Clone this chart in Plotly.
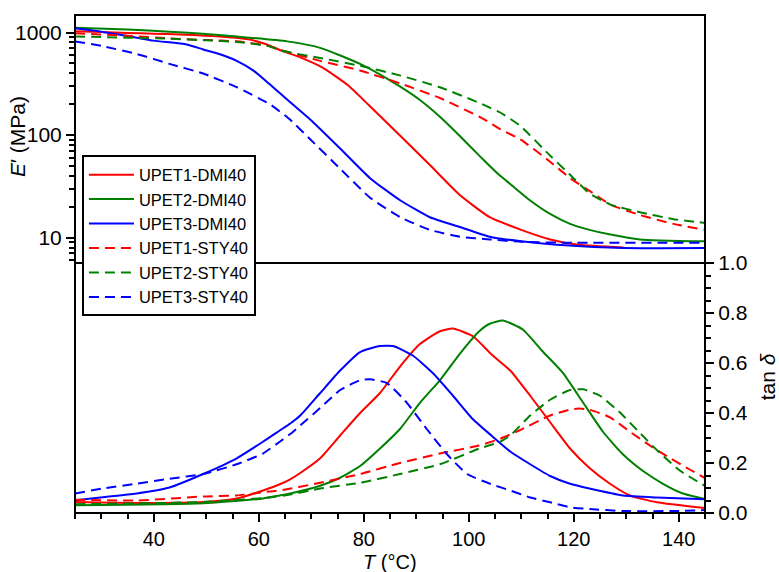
import plotly.graph_objects as go

# ---------------- data: storage modulus E' (MPa) ----------------
T_e_d1 = [25, 30, 35, 40, 45, 50, 55, 58, 62, 64, 68, 72, 77, 81, 87, 92.6, 98.3, 104, 110, 115.5, 121, 129.5]
E_d1 = [1030, 1010, 990, 975, 957, 930, 895, 858, 750, 675, 570, 460, 306, 195, 98, 51, 26, 15.8, 11.9, 9.6, 8.5, 8.0]

T_e_d2 = [25, 35, 43, 50, 55.8, 65.4, 71.7, 79.3, 85, 90.7, 94.5, 98.3, 102, 104, 106, 108, 111.7, 115.5, 119.3, 123, 127, 132.6, 145]
E_d2 = [1116, 1070, 1020, 970, 915, 820, 709, 494, 341, 220, 151, 98, 63, 50, 40, 33, 23, 17, 13.6, 11.9, 10.7, 9.6, 9.2]

T_e_d3 = [25, 30, 33.6, 39.9, 46.3, 49.4, 52.6, 55.8, 59, 62, 64, 66, 69.8, 75.5, 81.2, 87, 92.6, 98.3, 104, 110, 116.8, 129.4, 145]
E_d3 = [1099, 1020, 950, 834, 764, 684, 613, 529, 425, 316, 257, 209, 142, 74, 38, 23, 15.8, 12.7, 10.2, 9.2, 8.5, 7.9, 7.9]

T_e_s1 = [25, 35, 43, 50, 55.8, 62, 64, 71.7, 79.3, 87, 94.5, 102, 104, 106, 109.8, 115.5, 119.3, 123, 127, 132.6, 139, 145]
E_s1 = [985, 930, 877, 845, 820, 740, 680, 529, 426, 318, 230, 151, 132, 114, 91, 55, 38, 28.6, 21, 16.6, 13.6, 11.9]

T_e_s2 = [25, 35, 43, 50, 55.8, 62, 64, 71.7, 79.3, 87, 94.5, 102, 104, 106, 109.8, 115.5, 119.3, 123, 127, 132.6, 139, 145]
E_s2 = [915, 890, 870, 840, 810, 736, 670, 565, 474, 380, 293, 206, 185, 166, 123, 63, 41, 27, 21, 17.7, 15.1, 13.9]

T_e_s3 = [25, 30.3, 36.8, 43, 49.4, 55.8, 62.1, 64, 66, 69.8, 75.5, 81.2, 87, 92.6, 98.3, 104, 110, 120, 145]
E_s3 = [820, 736, 617, 495, 398, 293, 200, 170, 141, 91, 47, 24.5, 15.8, 11.9, 10.2, 9.6, 9.1, 8.9, 8.9]

# ---------------- data: tan delta ----------------
T_t_d1 = [25, 37, 49.4, 55.8, 60.8, 64, 66, 67.9, 71.7, 75.5, 79.3, 83.1, 86.9, 90.7, 94.5, 97, 100.8, 104.3, 107.9, 111.7, 115.5, 119.3, 123, 126.9, 130.7, 135.8, 145]
tan_d1 = [0.044, 0.040, 0.044, 0.058, 0.090, 0.115, 0.135, 0.160, 0.219, 0.310, 0.400, 0.480, 0.586, 0.676, 0.727, 0.738, 0.707, 0.635, 0.570, 0.469, 0.363, 0.258, 0.180, 0.117, 0.070, 0.043, 0.020]

T_t_d2 = [25, 49.4, 60.8, 64, 66, 71.7, 75.5, 79.3, 83.1, 86.9, 90.7, 94.5, 98.3, 102, 104, 106.5, 110.3, 114, 118, 121.8, 125.6, 129.4, 133.2, 137, 140.8, 145]
tan_d2 = [0.031, 0.039, 0.058, 0.070, 0.078, 0.109, 0.141, 0.188, 0.258, 0.336, 0.441, 0.531, 0.637, 0.727, 0.757, 0.770, 0.734, 0.648, 0.559, 0.441, 0.324, 0.234, 0.168, 0.117, 0.078, 0.056]

T_t_d3 = [25, 30.3, 36.7, 43, 49.4, 55.8, 60.8, 64, 66, 67.9, 71.7, 75.5, 79.3, 83.1, 85.6, 89.4, 93.2, 97, 100.8, 104.3, 107.9, 111.7, 115.5, 119.3, 123, 129.4, 135.8, 145]
tan_d3 = [0.051, 0.063, 0.078, 0.102, 0.156, 0.219, 0.285, 0.330, 0.358, 0.390, 0.480, 0.570, 0.644, 0.668, 0.668, 0.629, 0.559, 0.469, 0.375, 0.310, 0.246, 0.195, 0.148, 0.117, 0.098, 0.070, 0.062, 0.055]

T_t_s1 = [25, 37, 49.4, 55.8, 62, 64, 71.7, 79.3, 86.9, 94.5, 102, 106, 109.8, 115.5, 119.3, 121, 123, 126.9, 130.7, 134.5, 138.3, 142, 145]
tan_s1 = [0.053, 0.050, 0.066, 0.070, 0.086, 0.090, 0.121, 0.156, 0.200, 0.238, 0.270, 0.297, 0.332, 0.390, 0.414, 0.418, 0.413, 0.383, 0.325, 0.270, 0.220, 0.175, 0.140]

T_t_s2 = [25, 49.4, 62, 66, 71.7, 79.3, 86.9, 94.5, 102, 106, 107.9, 111.7, 115.5, 119.3, 121.8, 125, 128.8, 132.6, 136.4, 140.2, 145]
tan_s2 = [0.035, 0.044, 0.062, 0.074, 0.098, 0.121, 0.156, 0.195, 0.258, 0.285, 0.310, 0.390, 0.453, 0.492, 0.495, 0.469, 0.402, 0.320, 0.240, 0.170, 0.108]

T_t_s3 = [25, 30.3, 36.7, 43, 49.4, 55.8, 60.8, 64, 66, 67.9, 71.7, 75.5, 79.3, 81.2, 84.4, 88.2, 92, 95.9, 99.7, 104.3, 107.9, 111.7, 115.5, 119.3, 123, 129.4, 140, 145]
tan_s3 = [0.078, 0.098, 0.117, 0.137, 0.156, 0.195, 0.238, 0.285, 0.316, 0.350, 0.420, 0.492, 0.531, 0.535, 0.520, 0.441, 0.336, 0.234, 0.156, 0.115, 0.090, 0.062, 0.043, 0.023, 0.016, 0.008, 0.008, 0.012]

names = ["UPET1-DMI40", "UPET2-DMI40", "UPET3-DMI40", "UPET1-STY40", "UPET2-STY40", "UPET3-STY40"]
colors = ["#FF0000", "#008000", "#0000FF", "#FF0000", "#008000", "#0000FF"]
dashes = ["solid", "solid", "solid", "10px,6px", "10px,6px", "10px,6px"]

E_sets = [(T_e_d1, E_d1), (T_e_d2, E_d2), (T_e_d3, E_d3), (T_e_s1, E_s1), (T_e_s2, E_s2), (T_e_s3, E_s3)]
tan_sets = [(T_t_d1, tan_d1), (T_t_d2, tan_d2), (T_t_d3, tan_d3), (T_t_s1, tan_s1), (T_t_s2, tan_s2), (T_t_s3, tan_s3)]

FONT = "Liberation Sans, Arial, sans-serif"
fig = go.Figure()

for i in range(6):
    tx, ey = E_sets[i]
    fig.add_trace(go.Scatter(
        x=tx, y=ey, mode="lines", name=names[i], legendgroup=names[i],
        line=dict(color=colors[i], width=2, dash=dashes[i], shape="spline", smoothing=0.5),
        xaxis="x2", yaxis="y2"))
for i in range(6):
    tx, ty = tan_sets[i]
    fig.add_trace(go.Scatter(
        x=tx, y=ty, mode="lines", name=names[i], legendgroup=names[i], showlegend=False,
        line=dict(color=colors[i], width=2, dash=dashes[i], shape="spline", smoothing=0.5),
        xaxis="x", yaxis="y"))

split = 256 / 510

fig.update_layout(
    width=779, height=572,
    margin=dict(l=75, r=74, t=3, b=59),
    paper_bgcolor="white", plot_bgcolor="white",
    font=dict(family=FONT, size=21, color="black"),
    showlegend=True,
    legend=dict(x=0.011, y=0.718, xanchor="left", yanchor="top",
                bgcolor="white", bordercolor="black", borderwidth=2,
                font=dict(family=FONT, size=16.5, color="black"),
                itemwidth=45, tracegroupgap=0),
    xaxis=dict(domain=[0, 1], anchor="y", range=[25, 145], showgrid=False, zeroline=False,
               showline=False, tickvals=[40, 60, 80, 100, 120, 140],
               ticks="outside", ticklen=8, tickwidth=2, tickcolor="black",
               minor=dict(dtick=5, tick0=25, ticks="outside", ticklen=5, tickwidth=2, tickcolor="black", showgrid=False),
               tickfont=dict(size=20)),
    xaxis2=dict(domain=[0, 1], anchor="y2", matches="x", range=[25, 145], showgrid=False,
                zeroline=False, showline=False, showticklabels=False, ticks=""),
    yaxis=dict(domain=[0, split], anchor="x", side="right", range=[0, 1.0], showgrid=False,
               zeroline=False, showline=False, tickvals=[0, 0.2, 0.4, 0.6, 0.8, 1.0],
               tickformat=".1f", ticks="outside", ticklen=8, tickwidth=2, tickcolor="black",
               minor=dict(dtick=0.05, tick0=0, ticks="outside", ticklen=5, tickwidth=2, tickcolor="black", showgrid=False),
               tickfont=dict(size=21)),
    yaxis2=dict(domain=[split, 1], anchor="x2", side="left", type="log", range=[0.752, 3.171],
                showgrid=False, zeroline=False, showline=False,
                tickvals=[10, 100, 1000], ticktext=["10", "100", "1000"],
                ticks="outside", ticklen=8, tickwidth=2, tickcolor="black",
                minor=dict(dtick="D1", ticks="outside", ticklen=5, tickwidth=2, tickcolor="black", showgrid=False),
                tickfont=dict(size=21)),
    shapes=[
        dict(type="rect", xref="paper", yref="paper", x0=0, x1=1, y0=0, y1=1,
             line=dict(color="black", width=2), layer="above"),
        dict(type="line", xref="paper", yref="paper", x0=0, x1=1, y0=split, y1=split,
             line=dict(color="black", width=2), layer="above"),
    ],
    annotations=[
        dict(text="<i>E</i>′ (MPa)", xref="paper", yref="paper", x=0, y=0.755,
             xanchor="center", yanchor="middle", xshift=-58, textangle=-90, showarrow=False,
             font=dict(family=FONT, size=21, color="black")),
        dict(text="tan <i>δ</i>", xref="paper", yref="paper", x=1, y=0.2725,
             xanchor="center", yanchor="middle", xshift=62, textangle=-90, showarrow=False,
             font=dict(family=FONT, size=21, color="black")),
        dict(text="<i>T</i> (°C)", xref="paper", yref="paper", x=0.5, y=0,
             xanchor="center", yanchor="top", yshift=-36, showarrow=False,
             font=dict(family=FONT, size=20, color="black")),
    ],
)

fig.write_html("out.html")
